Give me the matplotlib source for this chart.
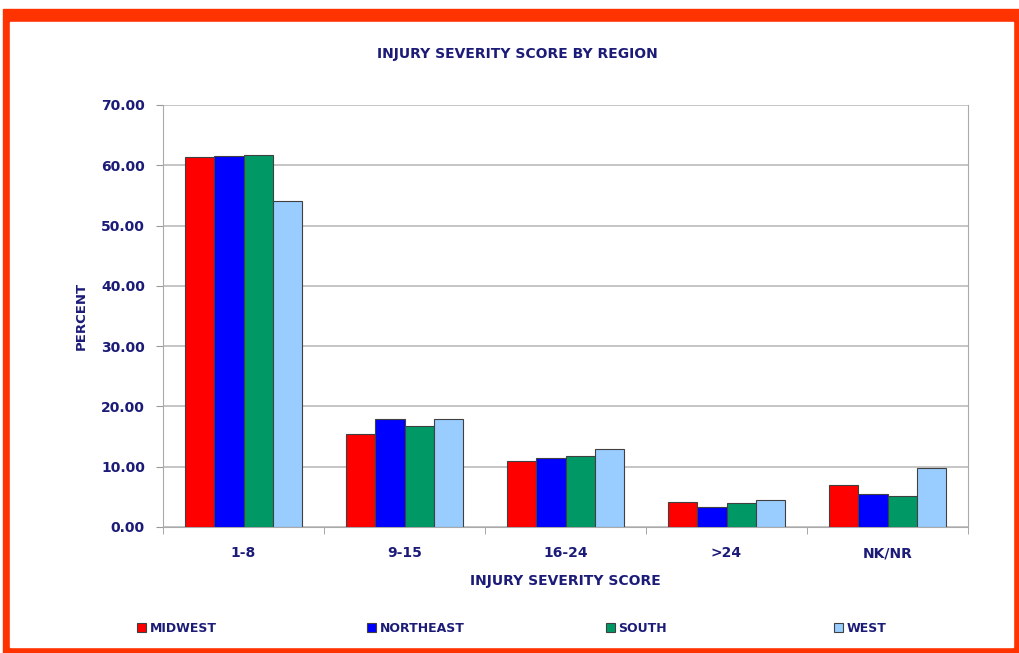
import numpy as np
import matplotlib
matplotlib.use("Agg")
import matplotlib.pyplot as plt
from matplotlib.patches import Rectangle

# data
categories = ["1-8", "9-15", "16-24", ">24", "NK/NR"]
regions = ["MIDWEST", "NORTHEAST", "SOUTH", "WEST"]
midwest = [61.4, 15.4, 10.9, 4.1, 7.0]
northeast = [61.5, 17.9, 11.4, 3.3, 5.5]
south = [61.7, 16.8, 11.8, 4.0, 5.1]
west = [54.1, 17.9, 12.9, 4.5, 9.8]

colors = ["#FF0000", "#0000FF", "#009966", "#99CCFF"]
navy = "#1C1C78"
legend_x = [137, 367, 606, 834]  # pixel x of each legend entry

fig = plt.figure(figsize=(10.19, 6.53), dpi=100)

# orange-red frame around the chart
fig.patches.append(Rectangle((3 / 1019, 0), 1016 / 1019, 644 / 653,
                             transform=fig.transFigure, color="#FF3300", zorder=-10))
fig.patches.append(Rectangle((10 / 1019, 6 / 653), 1003 / 1019, 625 / 653,
                             transform=fig.transFigure, color="white", zorder=-9))

ax = fig.add_axes([163 / 1019, 1 - 527 / 653, 805 / 1019, 422 / 653])
ax.set_facecolor("none")

x = np.arange(len(categories))
width = 0.183
series = [midwest, northeast, south, west]
bars = []
for i, (vals, name, c) in enumerate(zip(series, regions, colors)):
    b = ax.bar(x + (i - 1.5) * width, vals, width, color=c, edgecolor="#404040",
               linewidth=0.8, label=name, zorder=3)
    bars.append(b)

ax.set_xlim(-0.5, len(categories) - 0.5)
ax.set_ylim(0, 70)
ax.set_yticks(np.arange(0, 71, 10))
ax.set_yticklabels([f"{v:.2f}" for v in np.arange(0, 71, 10)])
ax.set_xticks(x)
ax.set_xticklabels(categories)
ax.set_xticks(np.arange(-0.5, len(categories)), minor=True)
ax.tick_params(axis="x", which="major", length=0, pad=14)
ax.tick_params(axis="x", which="minor", length=5, color="#999999")
ax.tick_params(axis="y", length=5, color="#999999", pad=8)
for lab in ax.get_xticklabels() + ax.get_yticklabels():
    lab.set_fontweight("bold")
    lab.set_color(navy)
    lab.set_fontsize(10)
ax.grid(axis="y", color="#BBBBBB", linewidth=1.2, zorder=0)
for side in ["left", "bottom", "right"]:
    ax.spines[side].set_color("#AAAAAA")
ax.spines["top"].set_visible(False)

ax.set_ylabel("PERCENT", fontsize=9.5, fontweight="bold", color=navy)
ax.yaxis.set_label_coords((88 - 163) / 805, 0.5)
ax.set_xlabel("INJURY SEVERITY SCORE", fontsize=10, fontweight="bold", color=navy,
              labelpad=10)
fig.text(517 / 1019, 1 - 54 / 653, "INJURY SEVERITY SCORE BY REGION", ha="center",
         va="center", fontsize=10, fontweight="bold", color=navy)

for b, name, px in zip(bars, regions, legend_x):
    leg = fig.legend([b], [name], loc="center left",
                     bbox_to_anchor=(px / 1019, 1 - 628 / 653), frameon=False,
                     handlelength=0.7, handleheight=0.7, handletextpad=0.3,
                     borderpad=0, borderaxespad=0,
                     prop={"weight": "bold", "size": 9})
    for t in leg.get_texts():
        t.set_color(navy)

plt.savefig("out.png", dpi=100)
plt.close()
